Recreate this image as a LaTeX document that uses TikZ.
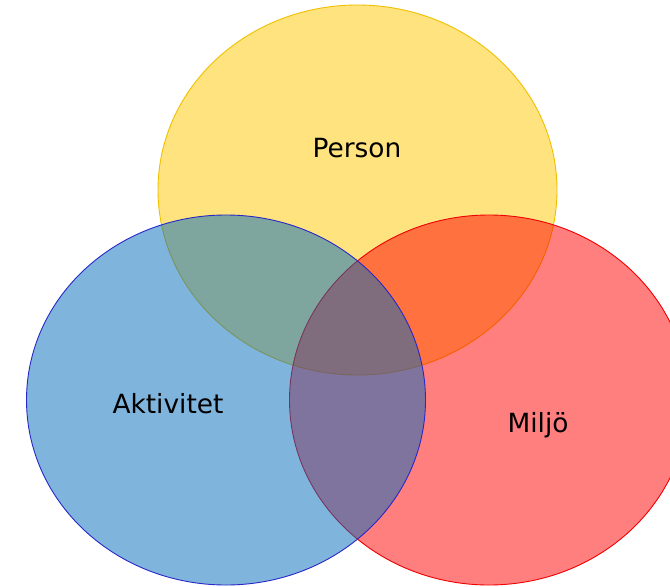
\documentclass[tikz,border=0pt]{standalone}
\usepackage{fontspec}
\setmainfont{DejaVu Sans}
\definecolor{yfill}{RGB}{255,201,0}
\definecolor{yline}{RGB}{240,192,0}
\definecolor{bfill}{RGB}{0,107,189}
\definecolor{bline}{RGB}{40,40,200}
\definecolor{rfill}{RGB}{255,0,0}
\definecolor{rline}{RGB}{240,0,0}
\tikzset{
  venn/.style={line width=0.9bp, fill opacity=0.5},
  lbl/.style={font=\fontsize{26.5}{30}\selectfont, text=black, inner sep=0pt}
}
\begin{document}
\begin{tikzpicture}[x=1bp,y=-1bp]
\useasboundingbox (0,0) rectangle (670,587);
\fill[white] (0,0) rectangle (670,587);
\draw[venn, draw=yline, fill=yfill] (357.5,190) ellipse [x radius=199.5, y radius=185];
\draw[venn, draw=rline, fill=rfill] (489,400) ellipse [x radius=199.5, y radius=185];
\draw[venn, draw=bline, fill=bfill] (226,400) ellipse [x radius=199.5, y radius=185];
\node[lbl] (person) at (357,148) {Person};
\node[lbl] (aktivitet) at (168,404) {Aktivitet};
\node[lbl] (miljo) at (538,425) {Miljö};
\end{tikzpicture}
\end{document}
